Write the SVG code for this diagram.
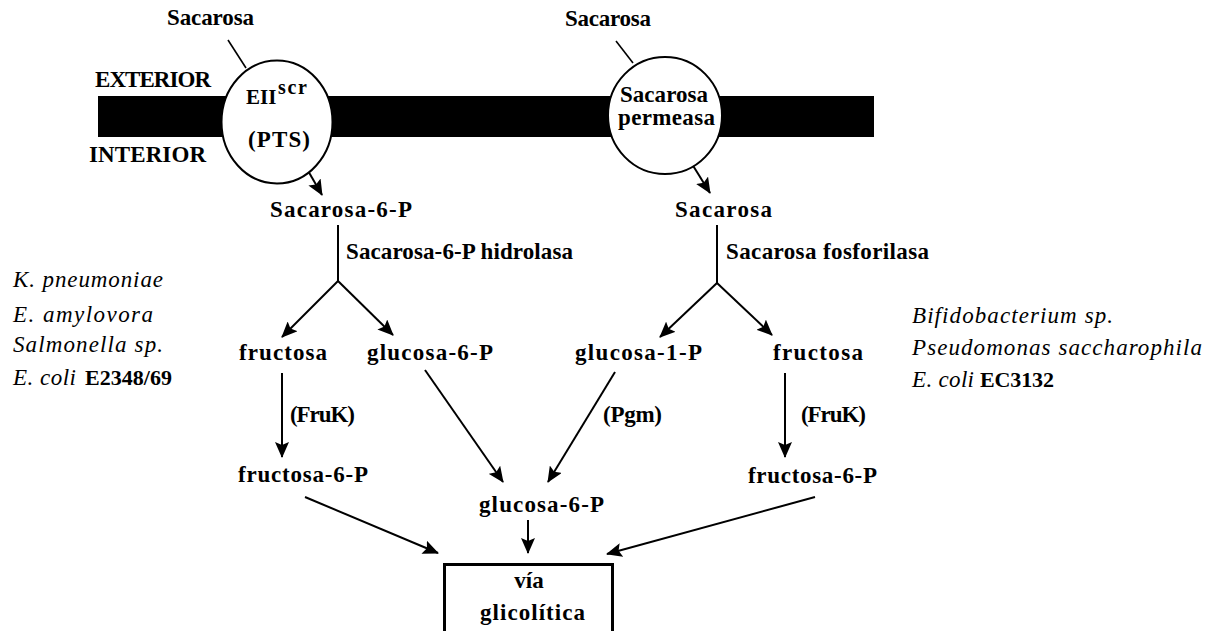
<svg xmlns="http://www.w3.org/2000/svg" width="1215" height="631" viewBox="0 0 1215 631">
  <style>
    .t { font-family: "Liberation Serif", "Times New Roman", serif; font-weight: bold; font-size: 23px; fill: #000; }
    .sup { font-family: "Liberation Serif", "Times New Roman", serif; font-weight: bold; font-size: 20px; fill: #000; }
    .sp { font-family: "Liberation Serif", "Times New Roman", serif; font-style: italic; font-size: 23px; fill: #000; }
    .spb { font-family: "Liberation Serif", "Times New Roman", serif; font-weight: bold; font-size: 22px; fill: #000; }
    .mid { text-anchor: middle; }
    .ln { stroke: #000; stroke-width: 2; fill: none; }
    .thin { stroke: #000; stroke-width: 1.6; fill: none; }
    .arr { stroke: #000; stroke-width: 2; fill: none; marker-end: url(#head); }
    .porter { fill: #fff; stroke: #000; stroke-width: 2; }
  </style>
  <defs>
    <marker id="head" markerUnits="userSpaceOnUse" markerWidth="16" markerHeight="14" refX="15" refY="7" orient="auto">
      <path d="M0,0 L16,7 L0,14 L3,7 z" fill="#000"/>
    </marker>
  </defs>
  <rect width="1215" height="631" fill="#fff"/>

  <!-- cell membrane -->
  <g id="membrane">
    <rect x="98" y="96" width="776" height="41" fill="#000"/>
    <text class="t" x="95" y="87" textLength="116">EXTERIOR</text>
    <text class="t" x="89" y="162" textLength="117">INTERIOR</text>
  </g>

  <!-- connectors -->
  <g id="connectors">
    <line class="thin" x1="228" y1="40" x2="246" y2="68"/>
    <line class="thin" x1="616" y1="41" x2="633" y2="63"/>
    <line class="arr" x1="307" y1="169" x2="322" y2="195"/>
    <line class="arr" x1="692" y1="164" x2="710" y2="193"/>
    <!-- hydrolase split -->
    <line class="ln" x1="338" y1="225" x2="338" y2="281"/>
    <line class="arr" x1="338" y1="281" x2="282" y2="337"/>
    <line class="arr" x1="338" y1="281" x2="393" y2="335"/>
    <!-- phosphorylase split -->
    <line class="ln" x1="717" y1="225" x2="717" y2="283"/>
    <line class="arr" x1="717" y1="283" x2="660" y2="337"/>
    <line class="arr" x1="717" y1="283" x2="772" y2="335"/>
    <!-- second step -->
    <line class="arr" x1="282" y1="373" x2="282" y2="457"/>
    <line class="arr" x1="425" y1="370" x2="503" y2="482"/>
    <line class="arr" x1="615" y1="372" x2="548" y2="482"/>
    <line class="arr" x1="785" y1="373" x2="785" y2="457"/>
    <!-- into glycolysis -->
    <line class="arr" x1="305" y1="497" x2="438" y2="553"/>
    <line class="arr" x1="528" y1="520" x2="528" y2="553"/>
    <line class="arr" x1="815" y1="497" x2="607" y2="554"/>
  </g>

  <g id="sacarosa-ext-1"><text class="t" x="167" y="25" textLength="87">Sacarosa</text></g>
  <g id="sacarosa-ext-2"><text class="t" x="565" y="26" textLength="86">Sacarosa</text></g>

  <g id="pts">
    <ellipse class="porter" cx="277" cy="122" rx="55.5" ry="61.5"/>
    <text class="t" x="246" y="104" style="font-size:21px">EII</text>
    <text class="sup" x="278" y="94" textLength="29">scr</text>
    <text class="t" x="248" y="147" textLength="62">(PTS)</text>
  </g>

  <g id="permeasa">
    <ellipse class="porter" cx="665" cy="115.5" rx="57" ry="58.5"/>
    <text class="t" x="620" y="102" textLength="88">Sacarosa</text>
    <text class="t" x="618" y="125" textLength="97">permeasa</text>
  </g>

  <g id="sacarosa-6-p"><text class="t" x="270" y="217" textLength="142">Sacarosa-6-P</text></g>
  <g id="hidrolasa"><text class="t" x="346" y="259" textLength="227">Sacarosa-6-P hidrolasa</text></g>
  <g id="sacarosa-int"><text class="t" x="675" y="217" textLength="97">Sacarosa</text></g>
  <g id="fosforilasa"><text class="t" x="726" y="259" textLength="203">Sacarosa fosforilasa</text></g>

  <g id="fructosa-l"><text class="t" x="239" y="360" textLength="88">fructosa</text></g>
  <g id="glucosa-6-p-l"><text class="t" x="367" y="360" textLength="126">glucosa-6-P</text></g>
  <g id="glucosa-1-p"><text class="t" x="575" y="360" textLength="127">glucosa-1-P</text></g>
  <g id="fructosa-r"><text class="t" x="773" y="360" textLength="90">fructosa</text></g>

  <g id="fruk-l"><text class="t" x="290" y="422" textLength="65">(FruK)</text></g>
  <g id="pgm"><text class="t" x="603" y="422" textLength="59">(Pgm)</text></g>
  <g id="fruk-r"><text class="t" x="801" y="422" textLength="65">(FruK)</text></g>

  <g id="fructosa-6-p-l"><text class="t" x="238" y="482" textLength="130">fructosa-6-P</text></g>
  <g id="fructosa-6-p-r"><text class="t" x="748" y="483" textLength="129">fructosa-6-P</text></g>
  <g id="glucosa-6-p"><text class="t" x="479" y="512" textLength="125">glucosa-6-P</text></g>

  <g id="via-glicolitica">
    <rect x="444.5" y="564.5" width="168" height="80" fill="#fff" stroke="#000" stroke-width="3"/>
    <text class="t mid" x="529" y="588">vía</text>
    <text class="t" x="480" y="620" textLength="105">glicolítica</text>
  </g>

  <g id="species-left">
    <text class="sp" x="13" y="287" textLength="150">K. pneumoniae</text>
    <text class="sp" x="13" y="322" textLength="140">E. amylovora</text>
    <text class="sp" x="13" y="352" textLength="150">Salmonella sp.</text>
    <text class="sp" x="13" y="385" textLength="63">E. coli</text>
    <text class="spb" x="85" y="385" textLength="87">E2348/69</text>
  </g>

  <g id="species-right">
    <text class="sp" x="912" y="323" textLength="201">Bifidobacterium sp.</text>
    <text class="sp" x="912" y="355" textLength="290">Pseudomonas saccharophila</text>
    <text class="sp" x="912" y="387" textLength="62">E. coli</text>
    <text class="spb" x="980" y="387" textLength="74">EC3132</text>
  </g>
</svg>
